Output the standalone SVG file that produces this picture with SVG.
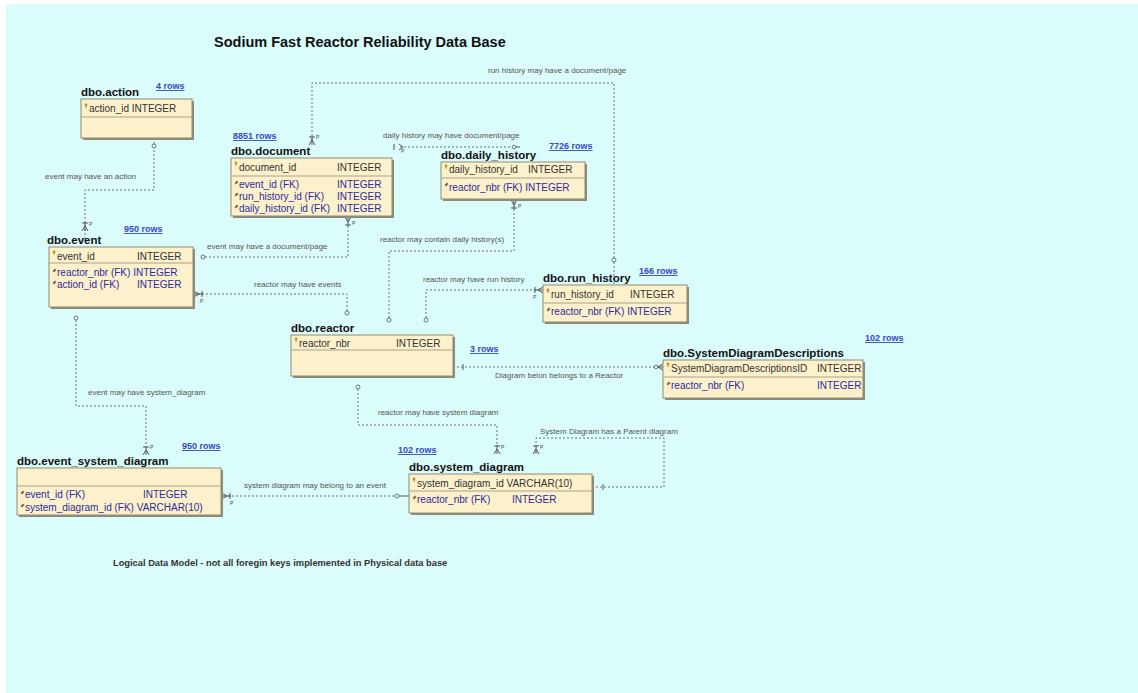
<svg xmlns="http://www.w3.org/2000/svg" xmlns:xlink="http://www.w3.org/1999/xlink" width="1138" height="693" viewBox="0 0 1138 693">
<style>
.bg{fill:#dafcfb}
.box{fill:#fdf1cb;stroke:#8f8b72;stroke-width:1}
.shadow{fill:#8c8a7c}
.sep{stroke:#a8a38a;stroke-width:1}
.title{font-family:"Liberation Sans",Arial,sans-serif;font-size:14.5px;font-weight:bold;fill:#111}
.name{font-family:"Liberation Sans",Arial,sans-serif;font-size:11.5px;font-weight:bold;fill:#111}
.pk{font-family:"Liberation Sans",Arial,sans-serif;font-size:10px;fill:#333}
.fk{font-family:"Liberation Sans",Arial,sans-serif;font-size:10px;fill:#2b2ba0}
.rows{font-family:"Liberation Sans",Arial,sans-serif;font-size:9px;font-weight:bold;fill:#3548c8;text-decoration:underline}
.lbl{font-family:"Liberation Sans",Arial,sans-serif;font-size:8px;fill:#555}
.foot{font-family:"Liberation Sans",Arial,sans-serif;font-size:9.3px;font-weight:bold;fill:#333}
.p{font-family:"Liberation Sans",Arial,sans-serif;font-size:5px;fill:#444}
.ln{fill:none;stroke:#6f6f6f;stroke-width:1;stroke-dasharray:2,2}
.sym{fill:none;stroke:#555;stroke-width:1}
.circ{fill:#dafcfb;stroke:#666;stroke-width:0.9}
.key{fill:#b8942c}
.fki{fill:#7a6a50}
</style>
<defs>
<g id="cf"><path class="sym" d="M-3,-8H3M0,-9V0M0,-5L-3,0M0,-5L3,0"/></g>
<g id="keyi"><circle class="key" cx="0" cy="0" r="1.4"/><rect class="key" x="-0.5" y="0" width="1" height="3"/></g>
<g id="fkicon"><path class="fki" d="M-1.5,1L1,-1.5L2.5,0L0,2.5Z"/></g>
</defs>
<rect x="0" y="0" width="1138" height="693" fill="#ffffff"/>
<rect class="bg" x="6" y="4" width="1132" height="689"/>
<text class="title" x="214" y="47">Sodium Fast Reactor Reliability Data Base</text>

<g id="connectors">
<!-- action -> event -->
<path class="ln" d="M154,138V190H85V240"/>
<circle class="circ" cx="154" cy="146" r="2"/>
<use xlink:href="#cf" transform="translate(85,231)"/>
<text class="p" x="89" y="226">P</text>
<text class="lbl" x="45" y="179">event may have an action</text>

<!-- event -> document -->
<path class="ln" d="M201,257H348V224"/>
<circle class="circ" cx="203" cy="257" r="2"/>
<use xlink:href="#cf" transform="translate(348,217) rotate(180)"/>
<text class="p" x="352" y="225">P</text>
<text class="lbl" x="207" y="249">event may have a document/page</text>

<!-- reactor -> event -->
<path class="ln" d="M194,294H347V312"/>
<circle class="circ" cx="347" cy="313" r="2"/>
<use xlink:href="#cf" transform="translate(194,294) rotate(90)"/>
<text class="p" x="200" y="303">P</text>
<text class="lbl" x="254" y="287">reactor may have events</text>

<!-- reactor -> daily_history -->
<path class="ln" d="M389,318V251H514V206"/>
<circle class="circ" cx="389" cy="320" r="2"/>
<use xlink:href="#cf" transform="translate(514,200) rotate(180)"/>
<text class="p" x="518" y="208">P</text>
<text class="lbl" x="380" y="242">reactor may contain daily history(s)</text>

<!-- reactor -> run_history -->
<path class="ln" d="M426,318V290H537"/>
<circle class="circ" cx="426" cy="320" r="2"/>
<use xlink:href="#cf" transform="translate(543,290) rotate(-90)"/>
<text class="p" x="533" y="299">P</text>
<text class="lbl" x="423" y="282">reactor may have run history</text>

<!-- run_history -> document -->
<path class="ln" d="M614,258V83H312V140"/>
<circle class="circ" cx="614" cy="260" r="2"/>
<path class="ln" d="M614,262V284"/>
<use xlink:href="#cf" transform="translate(312,145)"/>
<text class="p" x="316" y="139">P</text>
<text class="lbl" x="488" y="73">run history may have a document/page</text>

<!-- daily history -> document (short) -->
<path class="ln" d="M400,147H512"/>
<path class="sym" d="M394,144V150M399,144L403,147L399,150"/>
<text class="p" x="401" y="153">P</text>
<circle class="circ" cx="514" cy="147" r="1.8"/>
<path class="sym" d="M516,147H520"/>
<text class="lbl" x="383" y="138">daily history may have document/page</text>

<!-- reactor -> SystemDiagramDescriptions -->
<path class="ln" d="M453,367H655"/>
<path class="sym" d="M463,364V370"/>
<circle class="circ" cx="656" cy="367" r="1.8"/>
<path class="sym" d="M658,367L663,364M658,367L663,370M658,367H663"/>
<text class="lbl" x="495" y="378">Diagram belon belongs to a Reactor</text>

<!-- reactor -> system_diagram -->
<path class="ln" d="M358,385V425H497V445"/>
<circle class="circ" cx="358" cy="387" r="2"/>
<use xlink:href="#cf" transform="translate(497,454)"/>
<text class="p" x="501" y="449">P</text>
<text class="lbl" x="378" y="415">reactor may have system diagram</text>

<!-- system_diagram parent -->
<path class="ln" d="M592,487H664V438H536V445"/>
<path class="sym" d="M603,484V490"/>
<use xlink:href="#cf" transform="translate(536,454)"/>
<text class="p" x="540" y="449">P</text>
<text class="lbl" x="540" y="434">System Diagram has a Parent diagram</text>

<!-- event -> event_system_diagram -->
<path class="ln" d="M76,316V406H146V446"/>
<circle class="circ" cx="76" cy="318" r="2"/>
<use xlink:href="#cf" transform="translate(146,455)"/>
<text class="p" x="150" y="449">P</text>
<text class="lbl" x="88" y="395">event may have system_diagram</text>

<!-- system_diagram -> event_system_diagram -->
<path class="ln" d="M228,496H395"/>
<circle class="circ" cx="397" cy="496" r="2"/>
<path class="sym" d="M399,496H409"/>
<use xlink:href="#cf" transform="translate(222,496) rotate(90)"/>
<text class="p" x="230" y="505">P</text>
<text class="lbl" x="244" y="488">system diagram may belong to an event</text>
</g>

<g id="action">
<text class="rows" x="156" y="89">4 rows</text>
<text class="name" x="81" y="96">dbo.action</text>
<rect class="shadow" x="83" y="101" width="111" height="39"/>
<rect class="box" x="81" y="99" width="111" height="39"/>
<line class="sep" x1="81" y1="117" x2="192" y2="117"/>
<use xlink:href="#keyi" transform="translate(86,105)"/>
<text class="pk" x="89" y="112">action_id INTEGER</text>
</g>

<g id="document">
<text class="rows" x="233" y="139">8851 rows</text>
<text class="name" x="231" y="155">dbo.document</text>
<rect class="shadow" x="233" y="160" width="161" height="58"/>
<rect class="box" x="231" y="158" width="161" height="58"/>
<line class="sep" x1="231" y1="176" x2="392" y2="176"/>
<use xlink:href="#keyi" transform="translate(236,163)"/>
<text class="pk" x="239" y="171">document_id</text>
<text class="pk" x="337" y="171">INTEGER</text>
<use xlink:href="#fkicon" transform="translate(236,182)"/>
<text class="fk" x="239" y="188">event_id (FK)</text>
<text class="fk" x="337" y="188">INTEGER</text>
<use xlink:href="#fkicon" transform="translate(236,194)"/>
<text class="fk" x="239" y="200">run_history_id (FK)</text>
<text class="fk" x="337" y="200">INTEGER</text>
<use xlink:href="#fkicon" transform="translate(236,206)"/>
<text class="fk" x="239" y="212">daily_history_id (FK)</text>
<text class="fk" x="337" y="212">INTEGER</text>
</g>

<g id="daily_history">
<text class="rows" x="549" y="149">7726 rows</text>
<text class="name" x="441" y="159">dbo.daily_history</text>
<rect class="shadow" x="443" y="164" width="144" height="37"/>
<rect class="box" x="441" y="162" width="144" height="37"/>
<line class="sep" x1="441" y1="178" x2="585" y2="178"/>
<use xlink:href="#keyi" transform="translate(446,166)"/>
<text class="pk" x="449" y="173">daily_history_id</text>
<text class="pk" x="528" y="173">INTEGER</text>
<use xlink:href="#fkicon" transform="translate(446,184)"/>
<text class="fk" x="449" y="191">reactor_nbr (FK) INTEGER</text>
</g>

<g id="event">
<text class="rows" x="124" y="232">950 rows</text>
<text class="name" x="47" y="244">dbo.event</text>
<rect class="shadow" x="51" y="249" width="144" height="60"/>
<rect class="box" x="49" y="247" width="144" height="60"/>
<line class="sep" x1="49" y1="263" x2="193" y2="263"/>
<use xlink:href="#keyi" transform="translate(54,252)"/>
<text class="pk" x="57" y="260">event_id</text>
<text class="pk" x="137" y="260">INTEGER</text>
<use xlink:href="#fkicon" transform="translate(54,270)"/>
<text class="fk" x="57" y="276">reactor_nbr (FK) INTEGER</text>
<use xlink:href="#fkicon" transform="translate(54,282)"/>
<text class="fk" x="57" y="288">action_id (FK)</text>
<text class="fk" x="137" y="288">INTEGER</text>
</g>

<g id="run_history">
<text class="rows" x="639" y="274">166 rows</text>
<text class="name" x="543" y="282">dbo.run_history</text>
<rect class="shadow" x="545" y="287" width="144" height="37"/>
<rect class="box" x="543" y="285" width="144" height="37"/>
<line class="sep" x1="543" y1="303" x2="687" y2="303"/>
<use xlink:href="#keyi" transform="translate(548,290)"/>
<text class="pk" x="551" y="298">run_history_id</text>
<text class="pk" x="630" y="298">INTEGER</text>
<use xlink:href="#fkicon" transform="translate(548,309)"/>
<text class="fk" x="551" y="315">reactor_nbr (FK) INTEGER</text>
</g>

<g id="reactor">
<text class="name" x="291" y="332">dbo.reactor</text>
<rect class="shadow" x="293" y="337" width="162" height="41"/>
<rect class="box" x="291" y="335" width="162" height="41"/>
<line class="sep" x1="291" y1="350" x2="453" y2="350"/>
<use xlink:href="#keyi" transform="translate(296,339)"/>
<text class="pk" x="299" y="347">reactor_nbr</text>
<text class="pk" x="396" y="347">INTEGER</text>
<text class="rows" x="470" y="352">3 rows</text>
</g>

<g id="SystemDiagramDescriptions">
<text class="rows" x="865" y="341">102 rows</text>
<text class="name" x="663" y="357">dbo.SystemDiagramDescriptions</text>
<rect class="shadow" x="665" y="362" width="200" height="38"/>
<rect class="box" x="663" y="360" width="200" height="38"/>
<line class="sep" x1="663" y1="377" x2="863" y2="377"/>
<use xlink:href="#keyi" transform="translate(668,364)"/>
<text class="pk" x="671" y="372">SystemDiagramDescriptionsID</text>
<text class="pk" x="817" y="372">INTEGER</text>
<use xlink:href="#fkicon" transform="translate(668,383)"/>
<text class="fk" x="671" y="389">reactor_nbr (FK)</text>
<text class="fk" x="817" y="389">INTEGER</text>
</g>

<g id="event_system_diagram">
<text class="rows" x="182" y="449">950 rows</text>
<text class="name" x="17" y="465">dbo.event_system_diagram</text>
<rect class="shadow" x="19" y="470" width="204" height="47"/>
<rect class="box" x="17" y="468" width="204" height="47"/>
<line class="sep" x1="17" y1="486" x2="221" y2="486"/>
<use xlink:href="#fkicon" transform="translate(22,492)"/>
<text class="fk" x="25" y="498">event_id (FK)</text>
<text class="fk" x="143" y="498">INTEGER</text>
<use xlink:href="#fkicon" transform="translate(22,505)"/>
<text class="fk" x="25" y="511">system_diagram_id (FK) VARCHAR(10)</text>
</g>

<g id="system_diagram">
<text class="rows" x="398" y="453">102 rows</text>
<text class="name" x="409" y="471">dbo.system_diagram</text>
<rect class="shadow" x="411" y="476" width="183" height="39"/>
<rect class="box" x="409" y="474" width="183" height="39"/>
<line class="sep" x1="409" y1="491" x2="592" y2="491"/>
<use xlink:href="#keyi" transform="translate(414,479)"/>
<text class="pk" x="417" y="487">system_diagram_id VARCHAR(10)</text>
<use xlink:href="#fkicon" transform="translate(414,497)"/>
<text class="fk" x="417" y="503">reactor_nbr (FK)</text>
<text class="fk" x="512" y="503">INTEGER</text>
</g>

<text class="foot" x="113" y="566">Logical Data Model - not all foregin keys implemented in Physical data base</text>
</svg>
